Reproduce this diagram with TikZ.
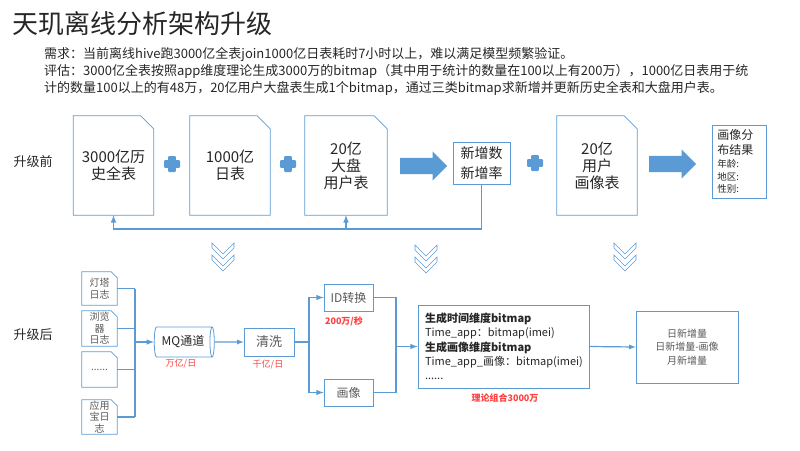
\documentclass[tikz,border=0pt]{standalone}
\usepackage{fontspec}
\setmainfont{Noto Sans CJK SC}
\usetikzlibrary{shapes.geometric,shapes.arrows}

\definecolor{officeblue}{HTML}{5B9BD5}
\definecolor{ratered}{HTML}{FF4040}
\definecolor{darktext}{HTML}{262626}
\definecolor{boxtext}{HTML}{595959}

\begin{document}
\begin{tikzpicture}
	[x=1pt, y=-1pt,
	doc/.style={inner sep=0pt, align=center, text=darktext, font=\fontsize{15}{17}\selectfont},
	logdoc/.style={inner sep=0pt, align=center, minimum width=35pt, text=boxtext, font=\fontsize{10}{11.5}\selectfont},
	docline/.style={officeblue, line width=0.8pt},
	box/.style={draw=officeblue, line width=0.8pt, inner sep=0pt, align=center, text=boxtext},
	flow/.style={officeblue, line width=1.5pt},
	flowarrow/.style={flow, -latex},
	blockarrow/.style={single arrow, fill=officeblue, inner sep=8pt, single arrow head extend=6.5pt, minimum height=47pt, anchor=tail},
	rate/.style={text=ratered, font=\fontsize{9}{10}\selectfont},
	stage/.style={anchor=west, text=darktext, font=\fontsize{13}{15}\selectfont}]

	\useasboundingbox (0,0) rectangle (800,450);

	% Title and notes
	\node[anchor=west, inner sep=0pt, text=darktext, font=\fontsize{26}{28}\selectfont] (title) at (12,24) {天玑离线分析架构升级};
	\node[anchor=base west, inner sep=0pt, text=darktext, font=\fontsize{13}{15}\selectfont] (need) at (44,58) {需求：当前离线hive跑3000亿全表join1000亿日表耗时7小时以上，难以满足模型频繁验证。};
	\node[anchor=base west, inner sep=0pt, text=darktext, font=\fontsize{13}{15}\selectfont] (eval1) at (44,75.5) {评估：3000亿全表按照app维度理论生成3000万的bitmap（其中用于统计的数量在100以上有200万），1000亿日表用于统};
	\node[anchor=base west, inner sep=0pt, text=darktext, font=\fontsize{13}{15}\selectfont] (eval2) at (44,92) {计的数量100以上的有48万，20亿用户大盘表生成1个bitmap，通过三类bitmap求新增并更新历史全表和大盘用户表。};

	\node[stage] (before) at (10,162) {升级前};
	\node[stage] (after) at (10,335) {升级后};

	% Old pipeline
	\node[doc, minimum width=80pt, minimum height=99pt] (full) at (113.5,165.5) {3000亿历\\史全表};
	\node[doc, minimum width=80pt, minimum height=99pt] (day) at (230,165.5) {1000亿\\日表};
	\node[doc, minimum width=82pt, minimum height=99pt] (user) at (346,165.5) {20亿\\大盘\\用户表};
	\node[doc, minimum width=80pt, minimum height=99pt] (portrait) at (597,165.5) {20亿\\用户\\画像表};

	\foreach \n in {full,day,user,portrait}
		\draw[docline] (\n.south west) -- (\n.north west) -- ([xshift=-13pt]\n.north east) -- ([yshift=-13pt]\n.north east) -- (\n.south east) -- cycle;

	\node[box, text=darktext, minimum width=57pt, minimum height=42pt, font=\fontsize{14}{20}\selectfont] (new) at (481.5,163) {新增数\\新增率};
	\node[box, text=darktext, anchor=west, align=left, text width=44pt, inner xsep=5pt, minimum height=73pt] (result) at (712,161.5)
		{\fontsize{12}{15}\selectfont 画像分\\布结果\\\fontsize{9.5}{13}\selectfont 年龄:\\地区:\\性别:};

	\foreach \x/\y in {172/164, 288/164, 535/163}
	{
		\fill[officeblue, rounded corners=1pt] (\x-8,\y-3.8) rectangle (\x+8,\y+3.8);
		\fill[officeblue, rounded corners=1pt] (\x-3.8,\y-8) rectangle (\x+3.8,\y+8);
	}

	\node[blockarrow] (arr1) at (400,166) {};
	\node[blockarrow] (arr2) at (649,164) {};

	% Feedback into the full tables
	\coordinate (fb) at (481.5,229);
	\draw[flowarrow] (new.south) -- (new.south |- fb) -- (full.south |- fb) -- (full.south);
	\draw[flowarrow] (user.south |- fb) -- (user.south);

	% Chevrons
	\foreach \x/\y in {223/243, 426/245, 625/243}
		\foreach \d in {0,12}
			\draw[officeblue, line width=0.6pt] (\x-11,\y+\d) -- (\x,\y+\d+11) -- (\x+11,\y+\d) -- (\x+11,\y+\d+5) -- (\x,\y+\d+16) -- (\x-11,\y+\d+5) -- cycle;

	% New pipeline
	\node[logdoc, minimum height=33pt] (log1) at (99.5,288.5) {灯塔\\日志};
	\node[logdoc, minimum height=35pt] (log2) at (99.5,328.5) {浏览\\器\\日志};
	\node[logdoc, minimum height=35pt] (log3) at (99.5,369.5) {......};
	\node[logdoc, minimum height=34pt] (log4) at (99.5,417) {应用\\宝日\\志};

	\foreach \n in {log1,log2,log3,log4}
		\draw[docline] (\n.south west) -- (\n.north west) -- ([xshift=-6pt]\n.north east) -- ([yshift=-6pt]\n.north east) -- (\n.south east) -- cycle;

	\coordinate (bus) at (135,342);
	\foreach \n in {log1,log2,log3,log4}
		\draw[flow] (\n.east) -- (\n.east -| bus);
	\draw[flow] (log1.east -| bus) -- (log4.east -| bus);

	\node[cylinder, draw=officeblue, line width=0.8pt, shape aspect=0.35, minimum width=30pt, minimum height=60pt, inner sep=0pt, text=darktext, font=\fontsize{12}{14}\selectfont] (mq) at (183,342) {MQ通道};
	\node[box, minimum width=50pt, minimum height=28pt, font=\fontsize{13}{15}\selectfont] (clean) at (269,342) {清洗};
	\node[box, minimum width=49pt, minimum height=27pt, font=\fontsize{12}{14}\selectfont] (idconv) at (348.5,297.5) {ID转换};
	\node[box, minimum width=49pt, minimum height=27pt, font=\fontsize{12}{14}\selectfont] (pic) at (348.5,392.5) {画像};
	\node[box, text=darktext, align=left, text width=157pt, inner xsep=7pt, minimum height=83pt, font=\fontsize{11}{14.3}\selectfont] (big) at (503.5,346.5)
		{\textbf{生成时间维度bitmap}\\Time\_app：bitmap(imei)\\\textbf{生成画像维度bitmap}\\Time\_app\_画像：bitmap(imei)\\......};
	\node[box, minimum width=102pt, minimum height=72pt, font=\fontsize{10}{13.5}\selectfont] (res) at (687,347) {日新增量\\日新增量-画像\\月新增量};

	\node[rate] (rate1) at (181,364) {万亿/日};
	\node[rate] (rate2) at (268,365) {千亿/日};
	\node[rate, font=\fontsize{9}{10}\selectfont\bfseries] (rate3) at (344,321) {200万/秒};
	\node[rate, font=\fontsize{9}{10}\selectfont\bfseries] (rate4) at (505,398) {理论组合3000万};

	\draw[flowarrow] (bus) -- (mq.west);
	\draw[flowarrow, line width=1.2pt] (mq.east) -- (clean.west);

	\coordinate (split) at (309,342);
	\draw[flow] (clean.east) -- (split);
	\draw[flowarrow] (split) |- (idconv.west);
	\draw[flowarrow] (split) |- (pic.west);

	\coordinate (merge) at (396,346.5);
	\draw[flow] (idconv.east) -| (merge);
	\draw[flow] (pic.east) -| (merge);
	\draw[flowarrow] (merge) -- (big.west);
	\draw[flowarrow, line width=1.2pt] (big.east) -- (res.west);

\end{tikzpicture}
\end{document}
